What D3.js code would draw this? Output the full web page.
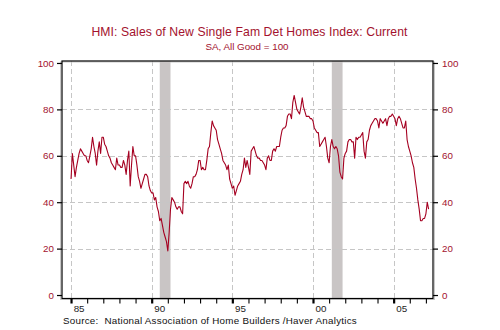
<!DOCTYPE html>
<html>
<head>
<meta charset="utf-8">
<script src="https://cdn.jsdelivr.net/npm/d3@7"></script>
<style>
  body { margin: 0; background: #fff; }
  svg { display: block; font-family: "Liberation Sans", Arial, sans-serif; }
</style>
</head>
<body>
<svg id="chart" width="500" height="330"></svg>
<script>
// NAHB HMI: sales of new single-family detached homes, current conditions (SA, monthly)
const firstYear = 1985;
const salesIndex = [
  50, 61, 56, 51, 55, 58, 61, 63, 62, 61, 60, 60,   // 1985
  58, 57, 60, 63, 68, 64, 61, 56, 62, 66, 61, 68,   // 1986
  68, 65, 64, 62, 60, 59, 57, 56, 55, 54, 59, 56,   // 1987
  56, 55, 55, 58, 56, 52, 58, 62, 47, 56, 64, 60,   // 1988
  60, 56, 51, 49, 46, 48, 50, 52, 52, 51, 47, 45,   // 1989
  44, 44, 41, 42, 38, 36, 32, 33, 30, 27, 25, 23,   // 1990
  19, 27, 37, 42, 41, 40, 38, 37, 38, 38, 36, 35,   // 1991
  48, 49, 48, 49, 47, 46, 48, 51, 51, 52, 54, 58,   // 1992
  58, 54, 55, 54, 54, 58, 63, 64, 70, 75, 73, 72,   // 1993
  71, 67, 65, 63, 61, 58, 57, 56, 54, 56, 50, 48,   // 1994
  46, 47, 43, 45, 47, 48, 49, 52, 54, 59, 55, 58,   // 1995
  55, 52, 62, 63, 64, 62, 60, 59, 59, 58, 58, 57,   // 1996
  56, 54, 59, 60, 58, 58, 62, 63, 62, 64, 64, 64,   // 1997
  68, 71, 72, 72, 73, 77, 78, 78, 76, 83, 86, 83,   // 1998
  80, 79, 78, 81, 85, 81, 79, 77, 77, 77, 76, 76,   // 1999
  75, 72, 71, 70, 70, 64, 65, 66, 67, 68, 64, 59,   // 2000
  57, 64, 67, 64, 63, 64, 63, 60, 53, 51, 50, 59,   // 2001
  61, 62, 66, 67, 67, 66, 66, 59, 68, 67, 68, 68,   // 2002
  69, 70, 62, 59, 66, 67, 71, 73, 74, 75, 76, 76,   // 2003
  75, 72, 76, 75, 74, 75, 76, 73, 76, 77, 77, 78,   // 2004
  77, 76, 73, 76, 77, 76, 74, 72, 72, 75, 67, 64,   // 2005
  62, 60, 57, 55, 50, 46, 41, 37, 32, 32, 33, 33,   // 2006
  35, 40, 37                                        // 2007
];
const yTicks = [0, 20, 40, 60, 80, 100];
const gridValues = [20, 40, 60, 80];
const majorYears = [1985, 1990, 1995, 2000, 2005];
const minorYears = d3.range(1985, 2008);
const yearLabels = ["85", "90", "95", "00", "05"];
// recession periods (NBER), in fractional years
const recessions = [[1990 + 6 / 12, 1991 + 2 / 12], [2001 + 2 / 12, 2001 + 10 / 12]];

const titleText = "HMI: Sales of New Single Fam Det Homes Index: Current";
const subtitleText = "SA, All Good = 100";
const sourceText = "Source:  National Association of Home Builders /Haver Analytics";

const red = "#a3122e";
const lineRed = "#a50021";

const plotL = 62, plotR = 433, plotT = 61, plotB = 298.5;
const x = d3.scaleLinear().domain([1984.44, 2007.44]).range([plotL, plotR]);
const y = d3.scaleLinear().domain([-1.5, 100.85]).range([plotB, plotT]);

const svg = d3.select("#chart");
svg.append("rect").attr("width", 500).attr("height", 330).attr("fill", "#fff");

// titles
svg.append("text").attr("x", 249.5).attr("y", 35.5).attr("text-anchor", "middle")
  .attr("fill", red).attr("font-size", 12.2).attr("letter-spacing", 0.1).text(titleText);
svg.append("text").attr("x", 247).attr("y", 50).attr("text-anchor", "middle")
  .attr("fill", red).attr("font-size", 9.8).text(subtitleText);

// frame shadow
svg.append("rect").attr("x", plotL - 1.5).attr("y", plotT + 1).attr("width", plotR - plotL + 3)
  .attr("height", plotB - plotT).attr("fill", "none").attr("stroke", "#c8c8c8").attr("stroke-width", 1);

// recession shading
svg.append("g").selectAll("rect").data(recessions).join("rect")
  .attr("x", d => x(d[0])).attr("width", d => x(d[1]) - x(d[0]))
  .attr("y", plotT).attr("height", plotB - plotT).attr("fill", "#c9c5c5");

// gridlines
const grid = svg.append("g").attr("stroke", "#c6c6c6").attr("stroke-width", 1)
  .attr("stroke-dasharray", "5,3");
grid.selectAll("line.h").data(gridValues).join("line").attr("class", "h")
  .attr("x1", plotL).attr("x2", plotR)
  .attr("y1", d => Math.round(y(d)) + 0.5).attr("y2", d => Math.round(y(d)) + 0.5);
grid.selectAll("line.v").data(majorYears).join("line").attr("class", "v")
  .attr("y1", plotT).attr("y2", plotB)
  .attr("x1", d => Math.round(x(d)) + 0.5).attr("x2", d => Math.round(x(d)) + 0.5);

// series line
const series = salesIndex.map((v, i) => ({ t: firstYear + i / 12, v }));
svg.append("path").datum(series)
  .attr("fill", "none").attr("stroke", lineRed).attr("stroke-width", 1.1)
  .attr("stroke-linejoin", "round")
  .attr("d", d3.line().x(d => x(d.t)).y(d => y(d.v)));

// frame
svg.append("rect").attr("x", plotL).attr("y", plotT).attr("width", plotR - plotL)
  .attr("height", plotB - plotT).attr("fill", "none").attr("stroke", "#000").attr("stroke-width", 1.2);

// y axes
const styleAxis = g => {
  g.select(".domain").remove();
  g.selectAll(".tick line").attr("stroke", "#000").attr("stroke-width", 1.2);
  g.selectAll(".tick text").attr("fill", red).attr("font-size", 9.8)
    .attr("font-family", "'Liberation Sans', Arial, sans-serif");
};
svg.append("g").attr("transform", `translate(${plotL},0)`)
  .call(d3.axisLeft(y).tickValues(yTicks).tickSize(5).tickPadding(3).tickFormat(d3.format("d")))
  .call(styleAxis);
svg.append("g").attr("transform", `translate(${plotR},0)`)
  .call(d3.axisRight(y).tickValues(yTicks).tickSize(5).tickPadding(4).tickFormat(d3.format("d")))
  .call(styleAxis);

// x axis: yearly ticks, heavier every five years
const xAxis = svg.append("g").attr("transform", `translate(0,${plotB})`)
  .call(d3.axisBottom(x).tickValues(minorYears).tickSize(5).tickFormat(""));
xAxis.select(".domain").remove();
xAxis.selectAll(".tick line")
  .attr("stroke", "#000")
  .attr("stroke-width", d => majorYears.includes(d) ? 2.2 : 1.1);

svg.append("g").selectAll("text").data(majorYears).join("text")
  .attr("x", d => x(d + 0.5)).attr("y", 311.5).attr("text-anchor", "middle")
  .attr("font-size", 9.8).attr("fill", "#222")
  .text((d, i) => yearLabels[i]);

// source note
svg.append("text").attr("x", 63).attr("y", 323.5).attr("font-size", 9.8)
  .attr("letter-spacing", 0.25).attr("fill", "#111")
  .style("white-space", "pre")
  .text(sourceText);
</script>
</body>
</html>
